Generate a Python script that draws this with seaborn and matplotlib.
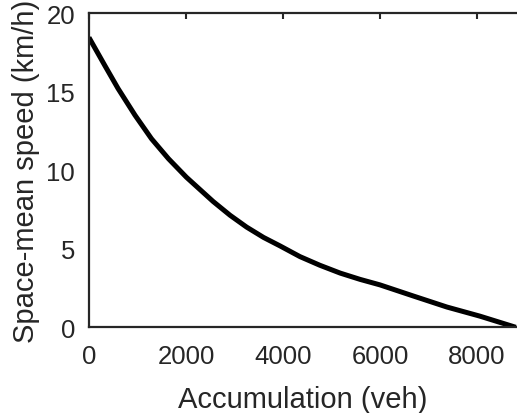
import pandas as pd
import matplotlib
matplotlib.use('Agg')
import matplotlib.pyplot as plt
import seaborn as sns

sns.set_style("white")
plt.rcParams['font.family'] = ['Liberation Sans', 'DejaVu Sans']

# accumulation (veh) vs. space-mean speed (km/h)
accumulation = [0, 330, 600, 950, 1290, 1640, 2010, 2560, 2910, 3250, 3600,
                3940, 4350, 4760, 5180, 5590, 6000, 6690, 7380, 8060, 8800]
speed = [18.45, 16.65, 15.2, 13.5, 12.0, 10.73, 9.55, 8.01, 7.13, 6.38, 5.72,
         5.18, 4.5, 3.95, 3.45, 3.05, 2.7, 1.99, 1.29, 0.71, 0.0]
df = pd.DataFrame({'Accumulation (veh)': accumulation, 'Space-mean speed (km/h)': speed})

fig = plt.figure(figsize=(5.17, 4.14), dpi=100)
ax = fig.add_axes([0.172, 0.207, 0.828, 0.759])
sns.lineplot(data=df, x='Accumulation (veh)', y='Space-mean speed (km/h)', ax=ax,
             color='black', linewidth=3.6, solid_capstyle='butt')

ax.set_xlim(0, 8825)
ax.set_ylim(0, 20)
ax.set_xticks([0, 2000, 4000, 6000, 8000])
ax.set_yticks([0, 5, 10, 15, 20])
ax.tick_params(direction='in', length=4, width=1.5, color='#262626', labelsize=18.5,
               labelcolor='#262626', top=True, right=False)
ax.tick_params(axis='x', pad=12)
ax.tick_params(axis='y', pad=10)
for side in ['left', 'bottom', 'top']:
    ax.spines[side].set_linewidth(1.6)
    ax.spines[side].set_color('#262626')
ax.spines['right'].set_visible(False)
ax.set_xlabel('Accumulation (veh)', fontsize=21, color='#262626', labelpad=12.5)
ax.set_ylabel('Space-mean speed (km/h)', fontsize=21, color='#262626', labelpad=4.5)

fig.savefig('out.png', dpi=100)
